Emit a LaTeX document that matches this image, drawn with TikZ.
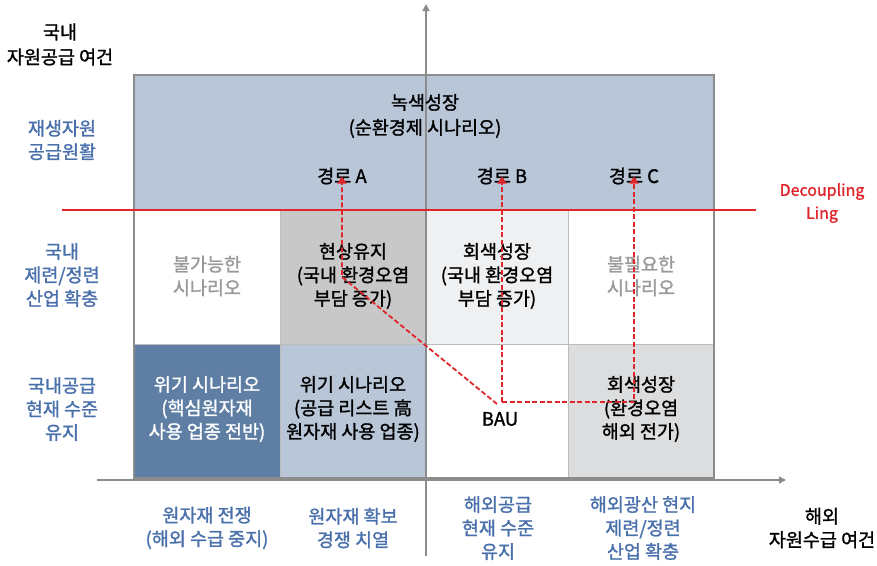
\documentclass[tikz,border=0pt]{standalone}
\usepackage{fontspec}
\setmainfont{Noto Sans CJK KR}[FakeBold=1.4]
\usetikzlibrary{arrows.meta}
\definecolor{topblue}{HTML}{B8C6D7}
\definecolor{darkblue}{HTML}{5E7EA4}
\definecolor{cellgray}{HTML}{C8C8C8}
\definecolor{palegray}{HTML}{EFF0F2}
\definecolor{midgray}{HTML}{DCDDDE}
\definecolor{labelblue}{HTML}{4A70AC}
\definecolor{lred}{HTML}{E0252B}
\definecolor{softtext}{HTML}{9A9A9A}
\definecolor{axisgray}{HTML}{8C8C8C}
\definecolor{gridgray}{HTML}{BDBDBD}
\begin{document}
\begin{tikzpicture}[x=1pt,y=-1pt,
  txt/.style={align=center,font=\fontsize{18.5}{23.5}\selectfont,inner sep=0pt},
  blue/.style={txt,text=labelblue},
  soft/.style={txt,text=softtext},
  path/.style={draw=lred,line width=1.8pt,dash pattern=on 5pt off 2.5pt},
  pathtip/.style={-{Triangle[length=7pt,width=9pt]}},
  axis/.style={draw=axisgray,line width=1.6pt,-{Triangle[length=7pt,width=7pt]}}
]
\useasboundingbox (0,0) rectangle (877,565);
% fills
\fill[topblue] (134,75) rectangle (714,210);
\fill[white] (134,210) rectangle (280,344);
\fill[cellgray] (280,210) rectangle (426,344);
\fill[palegray] (426,210) rectangle (568,344);
\fill[white] (568,210) rectangle (714,344);
\fill[darkblue] (134,344) rectangle (280,478);
\fill[topblue] (280,344) rectangle (426,478);
\fill[white] (426,344) rectangle (568,478);
\fill[midgray] (568,344) rectangle (714,478);
% grid
\draw[gridgray,line width=1pt] (280,210) -- (280,478) (426,210) -- (426,478) (568,210) -- (568,478) (134,344) -- (714,344);
% axes
\coordinate (xs) at (97,480); \coordinate (xe) at (786,480);
\coordinate (ys) at (426,556); \coordinate (ye) at (426,4);
\draw[axis] (ys) -- (ye);
\draw[axis] (xs) -- (xe);
% frame
\draw[axisgray,line width=2pt] (134,75) rectangle (714,478);
% decoupling line
\coordinate (dl) at (62,210); \coordinate (dr) at (756,210);
\draw[lred,line width=1.5pt] (dl) -- (dr);
% texts
\node[txt] (top1) at (60,32) {국내};
\node[txt] (top2) at (60,57) {자원공급 여건};
\node[blue] (l1) at (62,140) {재생자원\\공급원활};
\node[blue] (l2) at (62,275) {국내\\제련/정련\\산업 확충};
\node[blue] (l3) at (62,409) {국내공급\\현재 수준\\유지};
\node[txt,font=\fontsize{18.5}{25}\selectfont] (green) at (425,116) {녹색성장\\(순환경제 시나리오)};
\node[txt] (pa) at (342,176) {경로 A};
\node[txt] (pb) at (502,176) {경로 B};
\node[txt] (pc) at (634,176) {경로 C};
\node[txt,text=lred,font=\fontsize{16}{23}\selectfont] (dec) at (822,203) {Decoupling\\Ling};
\node[soft] (c21) at (207,276) {불가능한\\시나리오};
\node[txt] (c22) at (353,276) {현상유지\\(국내 환경오염\\부담 증가)};
\node[txt] (c23) at (497,276) {회색성장\\(국내 환경오염\\부담 증가)};
\node[soft] (c24) at (641,276) {불필요한\\시나리오};
\node[txt,text=white] (c31) at (207,409) {위기 시나리오\\(핵심원자재\\사용 업종 전반)};
\node[txt] (c32) at (353,409) {위기 시나리오\\(공급 리스트 高\\원자재 사용 업종)};
\node[txt] (bau) at (500,419) {BAU};
\node[txt] (c34) at (641,409) {회색성장\\(환경오염\\해외 전가)};
\node[blue] (b1) at (207,528) {원자재 전쟁\\(해외 수급 중지)};
\node[blue] (b2) at (353,528) {원자재 확보\\경쟁 치열};
\node[blue] (b3) at (498,528) {해외공급\\현재 수준\\유지};
\node[blue] (b4) at (643,528) {해외광산 현지\\제련/정련\\산업 확충};
\node[txt] (b5) at (822,528) {해외\\자원수급 여건};
% paths
\coordinate (s) at (502,402);
\coordinate (ka) at (342,277);
\coordinate (kc) at (634,402);
\draw[path,pathtip] (497,404) -- (ka) -- ([yshift=8pt]pa.south);
\draw[path,pathtip] (s) -- ([yshift=8pt]pb.south);
\draw[path,pathtip] (s) -- (kc) -- ([yshift=8pt]pc.south);
\end{tikzpicture}
\end{document}
